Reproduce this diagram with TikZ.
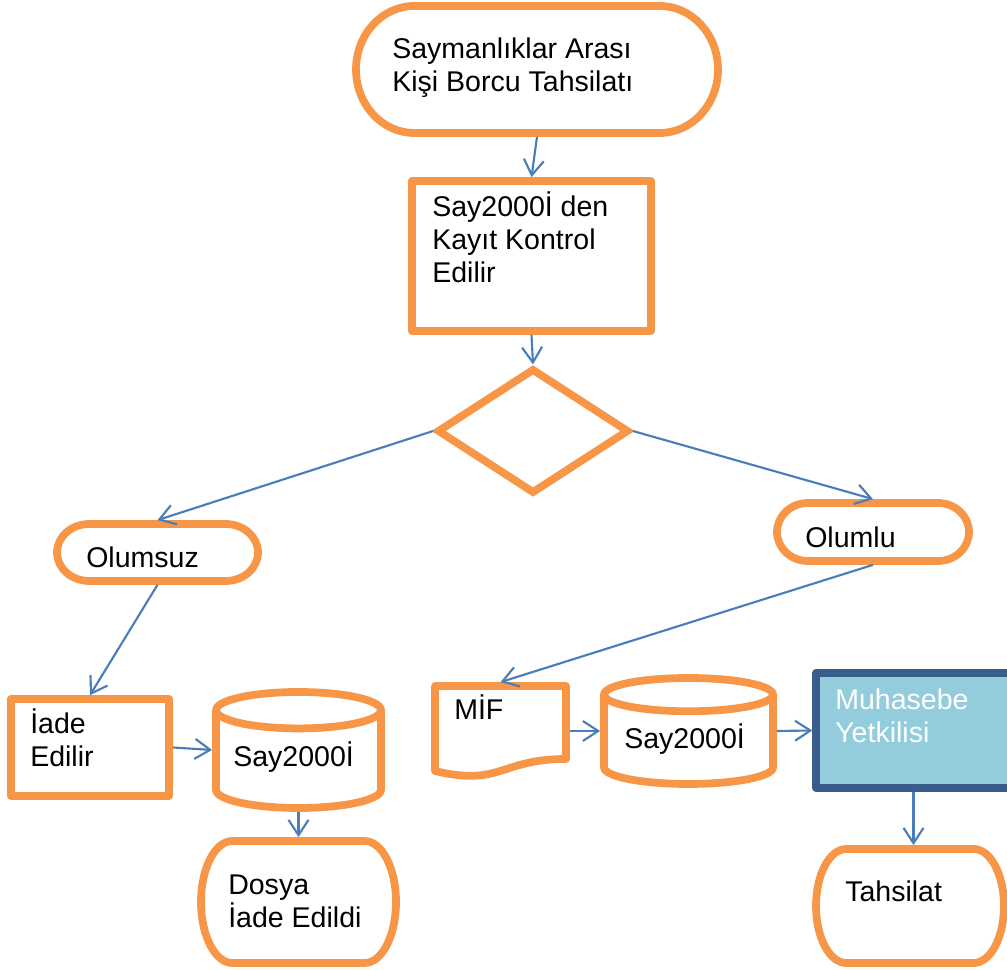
\documentclass[tikz,border=0pt]{standalone}
\usepackage{fontspec}
\setmainfont{Liberation Sans}
\usetikzlibrary{arrows.meta,shapes.geometric,fit}
\definecolor{orng}{HTML}{F79646}
\definecolor{arrowblue}{HTML}{4A7EBB}
\definecolor{navy}{HTML}{385D8A}
\definecolor{aqua}{HTML}{93CDDD}
\tikzset{
  shapeline/.style={draw=orng, line width=5.8pt, line join=round, fill=white},
  hit/.style={inner sep=0pt, outer sep=2.9pt, draw=none, fill=none, rectangle},
  boxnode/.style={rectangle, shapeline, inner sep=0pt},
  conn/.style={draw=arrowblue, line width=1.6pt, -{Straight Barb[length=11.5pt,width=15pt]}},
  lbl/.style={anchor=base west, inner sep=0pt, align=left, font=\fontsize{21.4pt}{24.75pt}\selectfont},
}
\newcommand\termpath[4]{%
  \pgfmathsetmacro\tmRX{0.161*(#3-#1)}%
  \pgfmathsetmacro\tmRY{(#4-#2)/2}%
  \draw[shapeline] ({#1+\tmRX},#4) -- ({#3-\tmRX},#4)
    arc[start angle=90, end angle=-90, x radius=\tmRX, y radius=\tmRY]
    -- ({#1+\tmRX},#2)
    arc[start angle=270, end angle=90, x radius=\tmRX, y radius=\tmRY] -- cycle;
}
\newcommand\cylpath[4]{%
  \pgfmathsetmacro\cyRX{(#3-#1)/2}%
  \pgfmathsetmacro\cyRY{0.157*(#4-#2)}%
  \draw[shapeline] (#1,{#4-\cyRY}) -- (#1,{#2+\cyRY})
    arc[start angle=180, end angle=360, x radius=\cyRX, y radius=\cyRY]
    -- (#3,{#4-\cyRY})
    arc[start angle=0, end angle=180, x radius=\cyRX, y radius=\cyRY] -- cycle;
  \draw[shapeline, fill=none] (#1,{#4-\cyRY})
    arc[start angle=180, end angle=360, x radius=\cyRX, y radius=\cyRY];
}
\begin{document}
\begin{tikzpicture}[x=0.75pt,y=0.75pt]
\useasboundingbox (0,0) rectangle (1007,970);
\clip (0,0) rectangle (1007,970);

% shapes
\termpath{356}{837}{718}{964}
\node[hit, fit={(356,837) (718,964)}] (T) {};
\node[boxnode, minimum width=179.25pt, minimum height=112.5pt] (K) at (531.5,714) {};
\node[diamond, draw=orng, line width=5.8pt, line join=miter, fill=white, inner sep=0pt,
      minimum width=144pt, minimum height=94pt] (D) at (533,539) {};
\termpath{57}{389}{258}{446}
\node[hit, fit={(57,389) (258,446)}] (O1) {};
\termpath{777}{409}{969}{467}
\node[hit, fit={(777,409) (969,467)}] (O2) {};
\node[boxnode, minimum width=118.5pt, minimum height=72.75pt] (I) at (90,222.5) {};
\cylpath{216}{162}{381}{278}
\node[hit, fit={(216,162) (381,278)}] (C1) {};
\termpath{201}{7}{396}{129}
\node[hit, fit={(201,7) (396,129)}] (D2) {};
\draw[shapeline] (435,284) -- (566,284) -- (566,211)
   .. controls (500.5,211) and (500.5,183.2) .. (435,199) -- cycle;
\node[hit, fit={(435,199) (566,284)}] (M) {};
\cylpath{604}{186}{773}{292}
\node[hit, fit={(604,186) (773,292)}] (C2) {};
\node[rectangle, draw=navy, fill=aqua, line width=5.5pt, line join=round, inner sep=0pt,
      minimum width=146.25pt, minimum height=86.25pt] (MY) at (913.5,239.5) {};
\termpath{816}{7}{1004}{121}
\node[hit, fit={(816,7) (1004,121)}] (TS) {};

% texts (base anchor = baseline of the last line)
\node[lbl] (t1) at (392,878) {Saymanlıklar Arası\\Kişi Borcu Tahsilatı};
\node[lbl] (t2) at (432,687) {Say2000İ den\\Kayıt Kontrol\\Edilir};
\node[lbl] (t3) at (86,402) {Olumsuz};
\node[lbl] (t4) at (805,422) {Olumlu};
\node[lbl] (t5) at (30,203) {İade\\Edilir};
\node[lbl] (t6) at (233,203) {Say2000İ};
\node[lbl] (t7) at (228,42) {Dosya\\İade Edildi};
\node[lbl] (t8) at (454,250) {MİF};
\node[lbl] (t9) at (624,221) {Say2000İ};
\node[lbl, text=white] (t10) at (835,227) {Muhasebe\\Yetkilisi};
\node[lbl] (t11) at (845,68) {Tahsilat};

% connectors
\draw[conn] (T.south) -- (K.north);
\draw[conn] (K.south) -- (D.north);
\draw[conn] (D.west) -- (O1.north);
\draw[conn] (D.east) -- (O2.north);
\draw[conn] (O1.south) -- (I.north);
\draw[conn] (O2.south) -- (M.north);
\draw[conn] (I.east) -- (C1.west);
\draw[conn] (C1.south) -- (D2.north);
\draw[conn] (M.east |- C2.west) -- (C2.west);
\draw[conn] (C2.east) -- (MY.west);
\draw[conn] (MY.south) -- (MY.south |- TS.north);
\end{tikzpicture}
\end{document}
